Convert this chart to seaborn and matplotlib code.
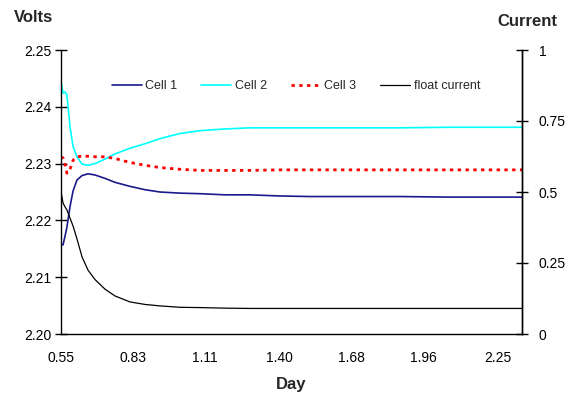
import matplotlib
matplotlib.use("Agg")
import matplotlib.pyplot as plt
import seaborn as sns
import pandas as pd
from matplotlib.lines import Line2D

sns.set_style("white")
plt.rcParams['font.family'] = ['Liberation Sans', 'DejaVu Sans']

# Data
day = [0.550, 0.558, 0.566, 0.573, 0.585, 0.597, 0.612, 0.632, 0.655, 0.682,
       0.721, 0.760, 0.818, 0.877, 0.935, 1.013, 1.091, 1.188, 1.285, 1.402,
       1.519, 1.674, 1.869, 2.063, 2.343]
cell1 = [2.2157, 2.2157, 2.2173, 2.2188, 2.2224, 2.2252, 2.2271, 2.2279, 2.2282, 2.2280,
         2.2274, 2.2267, 2.2260, 2.2254, 2.2250, 2.2248, 2.2247, 2.2245, 2.2245, 2.2243,
         2.2242, 2.2242, 2.2242, 2.2241, 2.2241]
cell2 = [2.2444, 2.2424, 2.2426, 2.2421, 2.2365, 2.2330, 2.2312, 2.2299, 2.2297, 2.2300,
         2.2308, 2.2317, 2.2327, 2.2335, 2.2344, 2.2353, 2.2358, 2.2361, 2.2363, 2.2363,
         2.2363, 2.2363, 2.2363, 2.2364, 2.2364]
cell3 = [2.2312, 2.2310, 2.2298, 2.2283, 2.2290, 2.2306, 2.2312, 2.2313, 2.2313, 2.2312,
         2.2312, 2.2309, 2.2302, 2.2297, 2.2293, 2.2290, 2.2288, 2.2288, 2.2288, 2.2289,
         2.2289, 2.2289, 2.2289, 2.2289, 2.2289]
float_current = [0.501, 0.461, 0.447, 0.437, 0.408, 0.380, 0.335, 0.271, 0.225, 0.192,
                 0.158, 0.134, 0.113, 0.104, 0.099, 0.094, 0.093, 0.091, 0.090, 0.090,
                 0.090, 0.090, 0.090, 0.090, 0.090]
x_ticks = [0.55, 0.83, 1.11, 1.40, 1.68, 1.96, 2.25]
x_tick_labels = ["0.55", "0.83", "1.11", "1.40", "1.68", "1.96", "2.25"]
volt_ticks = [2.20, 2.21, 2.22, 2.23, 2.24, 2.25]
volt_labels = ["2.20", "2.21", "2.22", "2.23", "2.24", "2.25"]
curr_ticks = [0, 0.25, 0.5, 0.75, 1]
curr_labels = ["0", "0.25", "0.5", "0.75", "1"]

df = pd.DataFrame({"day": day, "cell1": cell1, "cell2": cell2, "cell3": cell3,
                   "current": float_current})

fig = plt.figure(figsize=(5.72, 3.94), dpi=100)
W, H = 572, 394
ax = fig.add_axes([61 / W, 1 - 334 / H, (522 - 61) / W, (334 - 50) / H])
ax2 = ax.twinx()

c1, c2, c3 = "#1a1a8c", "#00ffff", "#ff0000"
dots = (0, (1.2, 1.6))
sns.lineplot(data=df, x="day", y="cell1", ax=ax, color=c1, lw=1.2)
sns.lineplot(data=df, x="day", y="cell2", ax=ax, color=c2, lw=1.2)
sns.lineplot(data=df, x="day", y="cell3", ax=ax, color=c3, lw=2.0, linestyle=dots)
sns.lineplot(data=df, x="day", y="current", ax=ax2, color="black", lw=0.9)

ax.set_xlim(0.55, 2.343)
ax.set_ylim(2.20, 2.25)
ax2.set_ylim(0, 1)
ax.set_xticks(x_ticks)
ax.set_xticklabels(x_tick_labels)
ax.set_yticks(volt_ticks)
ax.set_yticklabels(volt_labels)
ax2.set_yticks(curr_ticks)
ax2.set_yticklabels(curr_labels)
ax.set_xlabel("")
ax.set_ylabel("")
ax2.set_ylabel("")

for a in (ax, ax2):
    a.grid(False)
    a.spines["top"].set_visible(False)
    for s in ("left", "right", "bottom"):
        a.spines[s].set_color("black")
        a.spines[s].set_linewidth(1.0)
    a.tick_params(direction="inout", length=8, width=1.0, colors="black",
                  labelsize=10, labelcolor="black")
ax.tick_params(axis="y", pad=3)
ax.tick_params(axis="x", pad=8)
ax2.tick_params(axis="y", pad=8)
ax2.spines["left"].set_visible(False)
ax2.spines["bottom"].set_visible(False)

handles = [Line2D([], [], color=c1, lw=1.2),
           Line2D([], [], color=c2, lw=1.2),
           Line2D([], [], color=c3, lw=2.0, linestyle=dots),
           Line2D([], [], color="black", lw=0.9)]
labels = ["Cell 1", "Cell 2", "Cell 3", "float current"]
ax2.legend(handles, labels, ncol=4, frameon=False, fontsize=9,
           loc="center", bbox_to_anchor=((296 - 61) / (522 - 61), 1 - (86 - 50) / (334 - 50)),
           handlelength=2.4, handletextpad=0.3, columnspacing=1.9)

fig.text(14 / W, 1 - 17 / H, "Volts", fontsize=12, fontweight="bold", ha="left", va="center")
fig.text(527 / W, 1 - 22 / H, "Current", fontsize=12, fontweight="bold", ha="center", va="center")
fig.text(291 / W, 1 - 384 / H, "Day", fontsize=12, fontweight="bold", ha="center", va="center")

fig.savefig("out.png", dpi=100, facecolor="white")
